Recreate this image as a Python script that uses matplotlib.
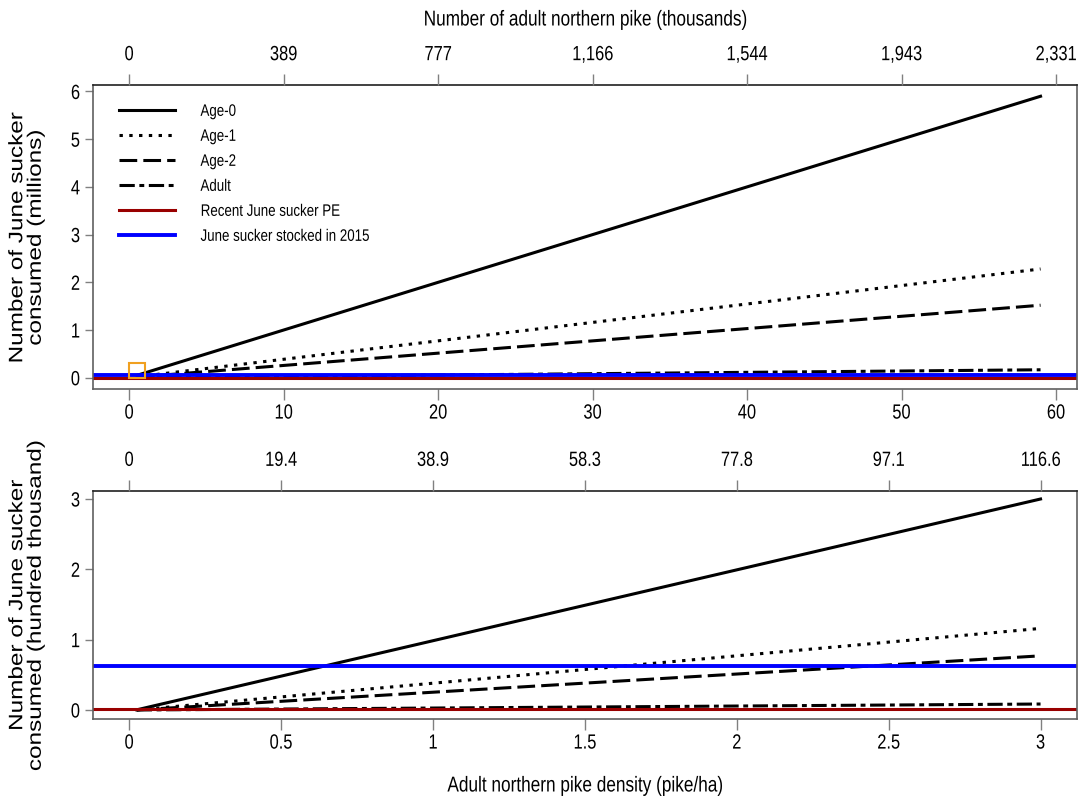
import numpy as np
import matplotlib.pyplot as plt
from matplotlib.patches import Rectangle
from matplotlib.patheffects import AbstractPathEffect
from matplotlib.transforms import Affine2D

# 数据（密度 pike/ha 与被捕食数量）
top_density = [0.5, 59.0]
top_age0 = [0.05, 5.90]
top_age1 = [0.02, 2.28]
top_age2 = [0.013, 1.52]
top_adult = [0.0015, 0.167]
top_pe = 0.001        # millions
top_stocked = 0.063   # millions

bot_density = [0.025, 3.0]
bot_age0 = [0.0025, 3.00]
bot_age1 = [0.001, 1.16]
bot_age2 = [0.0006, 0.77]
bot_adult = [0.0001, 0.085]
bot_pe = 0.01         # hundred thousand
bot_stocked = 0.63    # hundred thousand

top_xticks = [0, 10, 20, 30, 40, 50, 60]
top_pike_labels = ['0', '389', '777', '1,166', '1,544', '1,943', '2,331']
bot_xticks = [0, 0.5, 1, 1.5, 2, 2.5, 3]
bot_xlabels = ['0', '0.5', '1', '1.5', '2', '2.5', '3']
bot_pike_labels = ['0', '19.4', '38.9', '58.3', '77.8', '97.1', '116.6']

zoom_box = (0, 0, 1, 0.3)  # x, y, w, h in top panel data units

plt.rcParams['font.family'] = ['Liberation Sans', 'DejaVu Sans']


class Stretch(AbstractPathEffect):
    """文字を文字方向に伸縮する（元図の縦長フォントの再現）"""
    def __init__(self, sx, anchor=0.5):
        super().__init__()
        self.sx = sx
        self.anchor = anchor

    def draw_path(self, renderer, gc, tpath, affine, rgbFace=None):
        ext = tpath.get_extents()
        x0 = ext.x0 + self.anchor * ext.width
        t = Affine2D().translate(-x0, 0).scale(self.sx, 1).translate(x0, 0) + affine
        renderer.draw_path(gc, tpath, t, rgbFace)


SX = 0.8
W, H = 1078, 799
fig = plt.figure(figsize=(W / 100, H / 100), dpi=100)

def px_axes(l, t, r, b):
    return fig.add_axes([l / W, 1 - b / H, (r - l) / W, (b - t) / H])

ax1 = px_axes(92.7, 85, 1077, 389)
ax2 = px_axes(92.7, 490.7, 1077, 719)

lw = 2.2
styles = {
    'Age-0': dict(color='black', lw=lw, linestyle='-'),
    'Age-1': dict(color='black', lw=lw, linestyle=(0, (1.1, 2.1))),
    'Age-2': dict(color='black', lw=lw, linestyle=(0, (5.8, 2.0))),
    'Adult': dict(color='black', lw=lw, linestyle=(0, (5.0, 1.5, 1.6, 1.5))),
}

def draw(ax, x, series, pe, stocked):
    for name, y in series:
        ax.plot(x, y, label=name, **styles[name])
    ax.axhline(pe, color='#990000', lw=2.2, label='Recent June sucker PE')
    ax.axhline(stocked, color='#0000ff', lw=2.8, label='June sucker stocked in 2015')

draw(ax1, top_density,
     [('Age-0', top_age0), ('Age-1', top_age1), ('Age-2', top_age2), ('Adult', top_adult)],
     top_pe, top_stocked)
draw(ax2, bot_density,
     [('Age-0', bot_age0), ('Age-1', bot_age1), ('Age-2', bot_age2), ('Adult', bot_adult)],
     bot_pe, bot_stocked)

ax1.add_patch(Rectangle(zoom_box[:2], zoom_box[2], zoom_box[3], fill=False,
                        edgecolor='#f0a020', lw=1.5, zorder=10))

ax1.set_xlim(-2.36, 61.36)
ax1.set_ylim(-0.236, 6.136)
ax2.set_xlim(-0.12, 3.12)
ax2.set_ylim(-0.128, 3.118)

ax1.set_yticks(range(0, 7))
ax2.set_yticks(range(0, 4))
ax1.set_xticks(top_xticks)
ax2.set_xticks(bot_xticks, bot_xlabels)

fs = 14.8
twins = []
for ax, labels, ticks in [(ax1, top_pike_labels, top_xticks), (ax2, bot_pike_labels, bot_xticks)]:
    twin = ax.twiny()
    twin.set_xlim(ax.get_xlim())
    twin.set_xticks(ticks, labels)
    twin.tick_params(axis='x', length=8, width=1, color='#808080', pad=7, labelsize=fs)
    for sp in twin.spines.values():
        sp.set_visible(False)
    twins.append(twin)
    ax.tick_params(axis='x', length=8, width=1, color='#808080', pad=2.5, labelsize=fs)
    ax.tick_params(axis='y', length=6, width=1, color='#808080', pad=3, labelsize=fs)
    for side in ['left', 'right', 'bottom']:
        ax.spines[side].set_color('#606060')
    ax.spines['top'].set_color('#202020')
    for sp in ax.spines.values():
        sp.set_linewidth(1.2)

leg = ax1.legend(loc='upper left', bbox_to_anchor=(0.0265, 0.938), frameon=False,
                 fontsize=12, handlelength=3.35, handletextpad=1.55, labelspacing=0.6,
                 borderpad=0, borderaxespad=0)

ylab_kw = dict(rotation=90, ha='center', va='center', multialignment='center',
               fontsize=14, linespacing=1.12)
ylab1 = fig.text(27 / W, 1 - 237 / H, 'Number of June sucker\nconsumed (millions)', **ylab_kw)
ylab2 = fig.text(27 / W, 1 - 604.5 / H, 'Number of June sucker\nconsumed (hundred thousand)', **ylab_kw)

xlab_top = fig.text(585 / W, 1 - 20 / H, 'Number of adult northern pike (thousands)',
                    ha='center', va='center', fontsize=15.5)
xlab_bot = fig.text(585 / W, 1 - 786 / H, 'Adult northern pike density (pike/ha)',
                    ha='center', va='center', fontsize=15.5)

fig.canvas.draw()
for t in [ylab1, ylab2]:
    t.set_path_effects([Stretch(1.25, 0.5)])
for t in [xlab_top, xlab_bot]:
    t.set_path_effects([Stretch(SX, 0.5)])
for t in leg.get_texts():
    t.set_path_effects([Stretch(SX, 0.0)])
for a in [ax1, ax2] + twins:
    for t in a.get_xticklabels():
        t.set_path_effects([Stretch(SX, 0.5)])
for a in [ax1, ax2]:
    for t in a.get_yticklabels():
        t.set_path_effects([Stretch(SX, 1.0)])

fig.savefig('out.png', dpi=100)
